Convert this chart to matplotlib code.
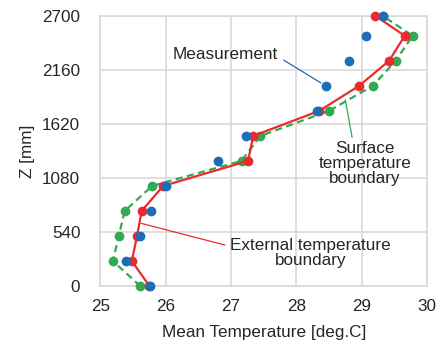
import matplotlib
matplotlib.use("Agg")
import matplotlib.pyplot as plt

plt.rcParams['font.family'] = ['Liberation Sans', 'DejaVu Sans']

z_mm = [0, 250, 500, 750, 1000, 1250, 1500, 1750, 2000, 2250, 2500, 2700]
measurement = [25.76, 25.39, 25.60, 25.78, 26.00, 26.80, 27.23, 28.32, 28.45, 28.80, 29.07, 29.32]
external_bc = [25.75, 25.48, 25.56, 25.63, 25.96, 27.26, 27.34, 28.35, 28.96, 29.42, 29.66, 29.21]
surface_bc = [25.61, 25.19, 25.28, 25.37, 25.79, 27.16, 27.45, 28.50, 29.17, 29.52, 29.78, 29.32]

x_ticks = [25, 26, 27, 28, 29, 30]
y_ticks = [0, 540, 1080, 1620, 2160, 2700]

RED = '#ea2a2e'
BLUE = '#1f6db5'
GREEN = '#34a853'
TXT = '#262626'
FS = 12.3

fig = plt.figure(figsize=(4.48, 3.43), dpi=100)
ax = fig.add_axes([0.2243, 0.166, 0.953 - 0.2243, 0.954 - 0.166])

ax.plot(surface_bc, z_mm, color=GREEN, lw=1.6, ls=(0, (3.2, 2.0)), marker='o',
        ms=6, zorder=3, clip_on=False)
ax.plot(external_bc, z_mm, color=RED, lw=1.6, marker='o', ms=6, zorder=4, clip_on=False)
ax.plot(measurement, z_mm, ls='none', color=BLUE, marker='o', ms=6, zorder=5, clip_on=False)

ax.set_xlim(25, 30)
ax.set_ylim(0, 2700)
ax.set_xticks(x_ticks)
ax.set_yticks(y_ticks)
ax.tick_params(length=0, labelsize=FS, colors=TXT)
ax.tick_params(axis='x', pad=9)
ax.tick_params(axis='y', pad=14.5)
ax.grid(True, color='#d9d9d9', lw=1.2)
ax.set_axisbelow(True)
for s in ax.spines.values():
    s.set_color('#d9d9d9')
    s.set_linewidth(1.2)

ax.set_xlabel('Mean Temperature [deg.C]', fontsize=FS, color=TXT, labelpad=8)
ax.set_ylabel('Z [mm]', fontsize=FS, color=TXT, labelpad=5)

ax.annotate('Measurement', xy=(measurement[8], z_mm[8]), xytext=(27.71, 2310),
            ha='right', va='center', fontsize=FS, color=TXT,
            arrowprops=dict(arrowstyle='-', color=BLUE, lw=0.9,
                            relpos=(1, 0.4), shrinkA=3, shrinkB=4))
ax.annotate('Surface\ntemperature\nboundary', xy=(28.75, 1860), xytext=(29.05, 1220),
            ha='center', va='center', fontsize=FS, color=TXT, linespacing=1.0,
            arrowprops=dict(arrowstyle='-', color=GREEN, lw=0.9,
                            relpos=(0.37, 1), shrinkA=1, shrinkB=0))
ax.annotate('External temperature\nboundary', xy=(25.62, 627), xytext=(28.22, 330),
            ha='center', va='center', fontsize=FS, color=TXT, linespacing=1.0,
            arrowprops=dict(arrowstyle='-', color=RED, lw=0.9,
                            relpos=(0, 0.72), shrinkA=2, shrinkB=0))

fig.savefig('out.png', dpi=100)
